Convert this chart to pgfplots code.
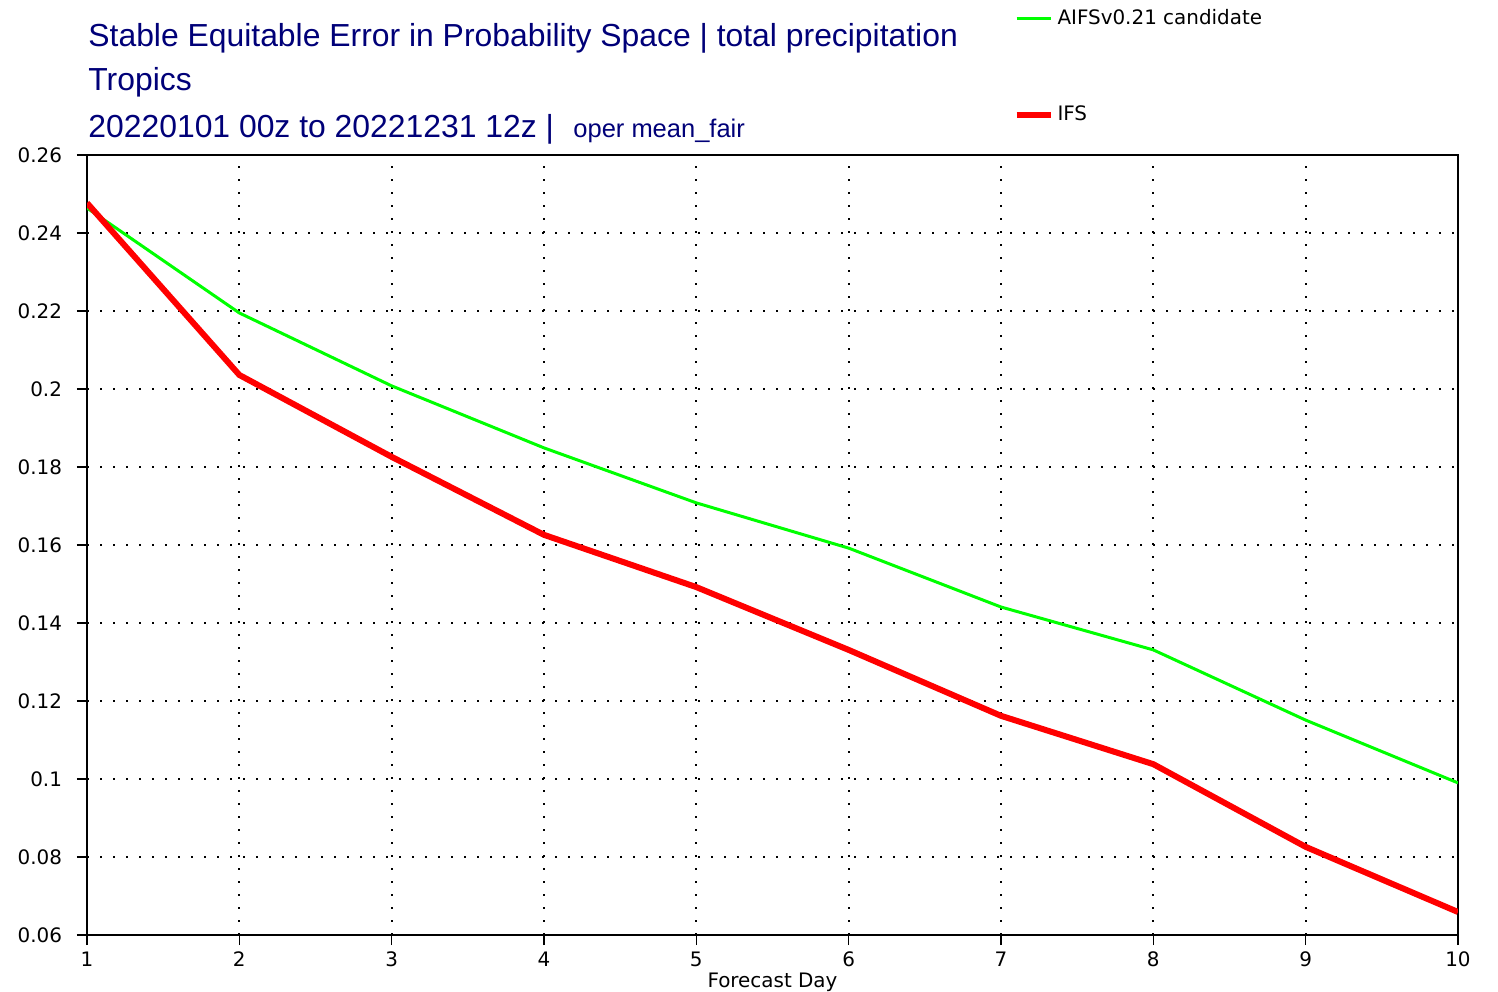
\documentclass[border=0pt]{standalone}
\usepackage{pgfplots}
\pgfplotsset{compat=1.18}
\usepackage{fontspec}
\setmainfont{DejaVu Sans}
\newfontfamily\arialfont{Liberation Sans}
\definecolor{titleblue}{RGB}{0,0,120}
\definecolor{aifsgreen}{RGB}{0,255,0}
\definecolor{ifsred}{RGB}{255,0,0}

\begin{document}
\begin{tikzpicture}
\path[use as bounding box] (-43.5bp,-28.5bp) rectangle (705.5bp,467.5bp);
\begin{axis}[
  at={(0,0)}, anchor=south west,
  scale only axis, width=685.5bp, height=390bp,
  xmin=1, xmax=10, ymin=0.06, ymax=0.26,
  xtick={1,...,10},
  ytick={0.06,0.08,0.10,0.12,0.14,0.16,0.18,0.20,0.22,0.24,0.26},
  scaled y ticks=false,
  yticklabel style={/pgf/number format/fixed, /pgf/number format/precision=2, xshift=-4bp},
  /pgf/number format/assume math mode=true,
  tick label style={font=\fontsize{10}{12}\selectfont},
  tick align=outside, tick pos=left,
  major tick length=5bp,
  every tick/.style={black, line width=0.8bp},
  axis line style={black, line width=1bp},
  grid=major,
  major grid style={black, line width=1.1bp, dash pattern=on 1.2bp off 5.3bp},
  xlabel={Forecast Day},
  xlabel style={font=\fontsize{10}{12}\selectfont, at={(axis description cs:0.5,0)}, anchor=base, yshift=-26bp},
  legend style={at={(axis description cs:0.6755,1.192)}, anchor=north west,
    draw=none, fill=none, inner sep=0pt, row sep=35bp,
    font=\fontsize{10}{12}\selectfont},
  legend cell align=left,
  legend image code/.code={\draw[#1] (0bp,0bp) -- (17bp,0bp);},
]
\addplot[aifsgreen, line width=1.5bp] coordinates {
  (1,0.2464) (2,0.2195) (3,0.2008) (4,0.1849) (5,0.1708)
  (6,0.1592) (7,0.1441) (8,0.1331) (9,0.1151) (10,0.0990)
};
\addlegendentry{AIFSv0.21 candidate}
\addplot[ifsred, line width=3bp] coordinates {
  (1,0.2477) (2,0.2036) (3,0.1826) (4,0.1626) (5,0.1492)
  (6,0.1331) (7,0.1162) (8,0.1038) (9,0.0826) (10,0.0659)
};
\addlegendentry{IFS}
\end{axis}
\begin{scope}[every node/.style={inner sep=0pt, anchor=base west, text=titleblue}]
\node at (0.5bp,444.2bp) {\arialfont\fontsize{16}{19}\selectfont Stable Equitable Error in Probability Space | total precipitation};
\node at (0.5bp,422bp) {\arialfont\fontsize{16}{19}\selectfont Tropics};
\node at (0.5bp,398.5bp) {\arialfont\fontsize{16}{19}\selectfont 20220101 00z to 20221231 12z |};
\node at (243bp,398.5bp) {\arialfont\fontsize{12.8}{15}\selectfont oper mean\_fair};
\end{scope}
\end{tikzpicture}
\end{document}
